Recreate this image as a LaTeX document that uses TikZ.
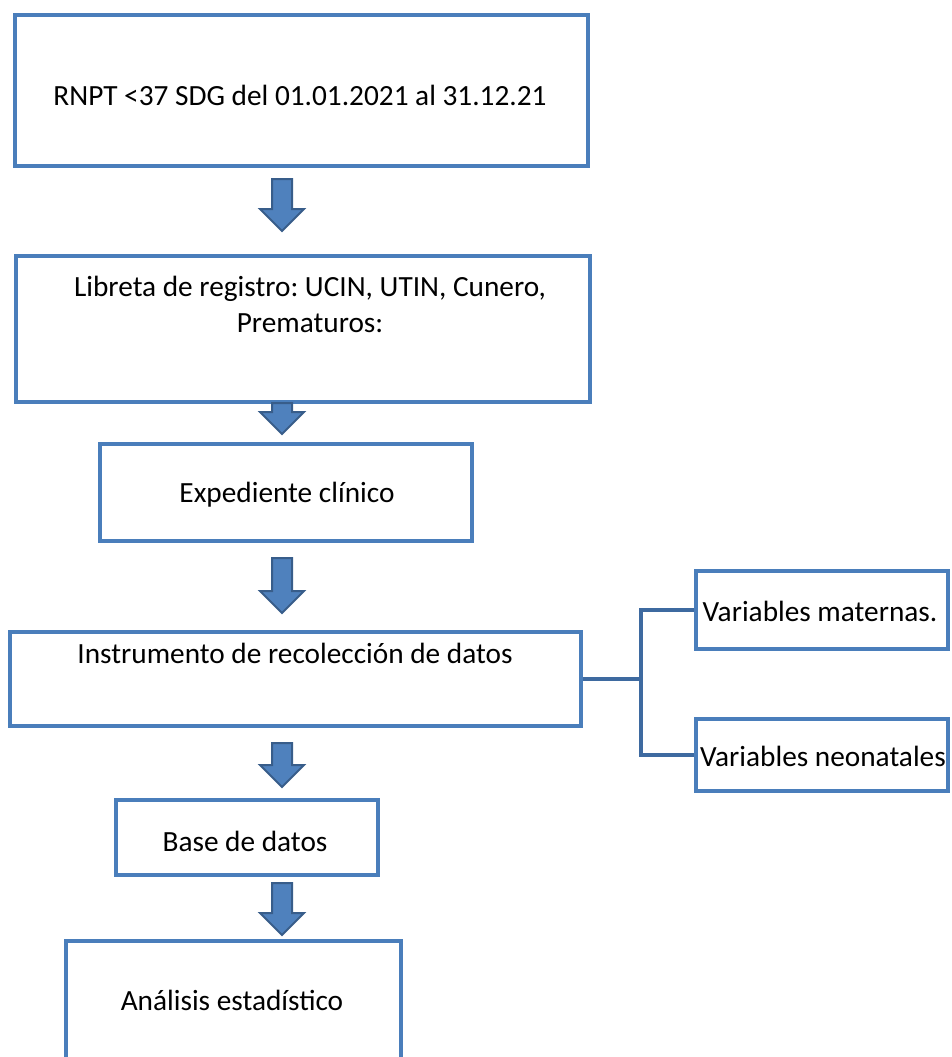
\documentclass[tikz,border=0pt]{standalone}
\usepackage{fontspec}
\setmainfont{Carlito}
\usetikzlibrary{calc}
\frenchspacing

\definecolor{cajaazul}{RGB}{74,126,187}
\definecolor{ramaazul}{RGB}{62,106,160}
\definecolor{flechaazul}{RGB}{79,129,189}
\definecolor{flechaborde}{RGB}{56,93,138}

\tikzset{
  caja/.style={draw=cajaazul, line width=4pt, rectangle, inner sep=0pt},
  texto/.style={font=\fontsize{29.3}{36}\selectfont, inner sep=0pt, align=center},
  flecha/.style={fill=flechaazul, draw=flechaborde, line width=2pt},
  rama/.style={draw=ramaazul, line width=4pt}
}

% block arrow pointing down: x, y top, y tip
\newcommand{\flechabajo}[3]{%
  \filldraw[flecha] ({#1-10},#2) -- ({#1+10},#2) -- ({#1+10},{#3-22}) -- ({#1+22},{#3-22})
    -- (#1,#3) -- ({#1-22},{#3-22}) -- ({#1-10},{#3-22}) -- cycle;}

\begin{document}
\begin{tikzpicture}[x=1pt, y=-1pt]
  \useasboundingbox (0,0) rectangle (951,1057);

  % cajas
  \node[caja, minimum width=573pt, minimum height=151pt] (c1) at (301.5,90.5) {};
  \node[caja, minimum width=574pt, minimum height=146pt] (c2) at (303,329) {};
  \node[caja, minimum width=372pt, minimum height=97pt] (c3) at (286,492.5) {};
  \node[caja, minimum width=571pt, minimum height=94pt] (c4) at (295.5,679) {};
  \node[caja, minimum width=252pt, minimum height=78pt] (c5) at (822,610) {};
  \node[caja, minimum width=252pt, minimum height=72pt] (c6) at (822,755) {};
  \node[caja, minimum width=262pt, minimum height=75pt] (c7) at (247,837.5) {};
  \node[caja, minimum width=335pt, minimum height=149pt] (c8) at (233.5,1015.5) {};

  % textos
  \node[texto] (t1) at (300,95) {RNPT <37 SDG del 01.01.2021 al 31.12.21};
  \node[texto] (t2) at (310,304) {Libreta de registro: UCIN, UTIN, Cunero,\\Prematuros:};
  \node[texto] (t3) at (287,495) {Expediente clínico};
  \node[texto] (t4) at (295,653) {Instrumento de recolección de datos};
  \node[texto] (t5) at (820,611) {Variables maternas.};
  \node[texto] (t6) at (823,756) {Variables neonatales};
  \node[texto] (t7) at (245,841) {Base de datos};
  \node[texto] (t8) at (232,1000) {Análisis estadístico};

  % flechas
  \flechabajo{282}{179}{231}
  \flechabajo{282}{403}{434}
  \flechabajo{282}{558}{613}
  \flechabajo{282}{743}{787}
  \flechabajo{282}{883}{935}

  % ramas
  \draw[rama] (c4.east) -- ++(58,0) coordinate (nudo);
  \draw[rama] (c5.west) -| (nudo) |- (c6.west);
\end{tikzpicture}
\end{document}
